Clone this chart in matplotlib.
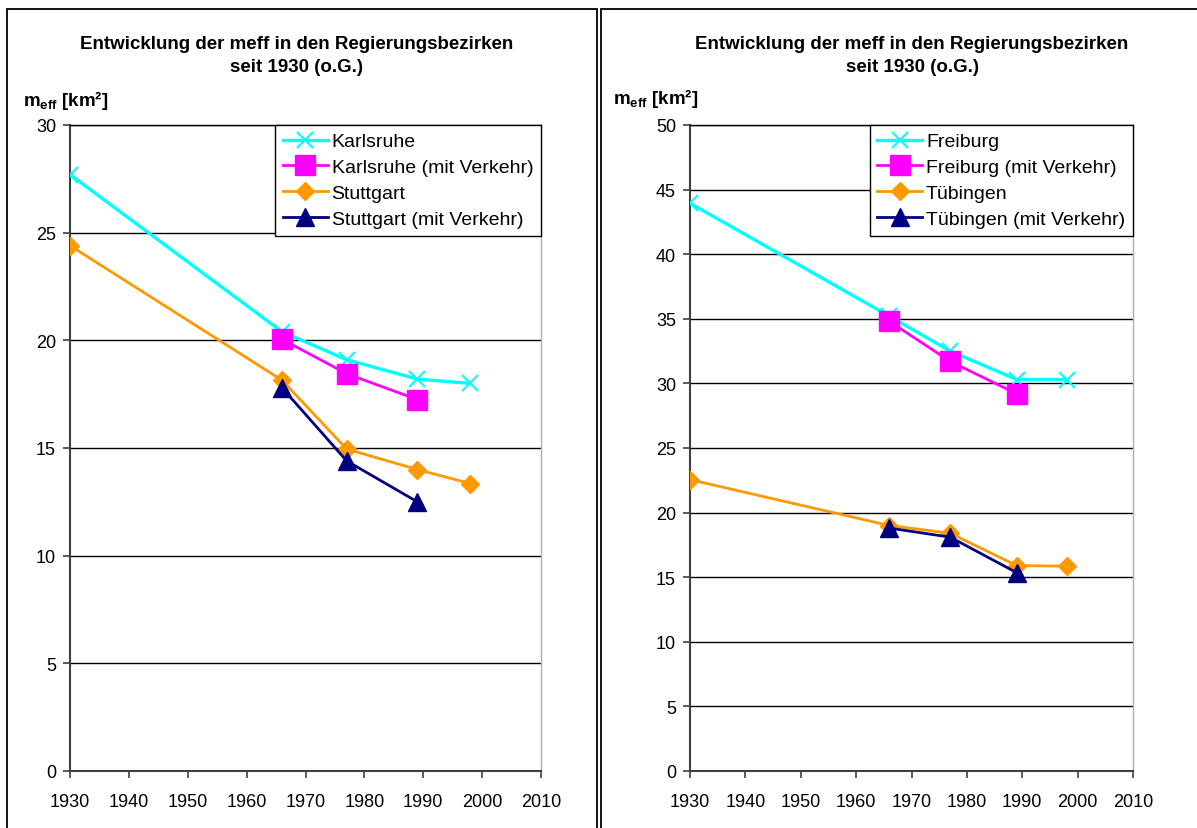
import matplotlib
matplotlib.use("Agg")
import matplotlib.pyplot as plt
from matplotlib.patches import Rectangle

plt.rcParams["font.family"] = ["Liberation Sans", "DejaVu Sans"]
plt.rcParams["mathtext.fontset"] = "custom"
plt.rcParams["mathtext.rm"] = "Liberation Sans"
plt.rcParams["mathtext.bf"] = "Liberation Sans:bold"

# -----------------------------
# Data
# -----------------------------
years_full = [1930, 1966, 1977, 1989, 1998]
years_traffic = [1966, 1977, 1989]

karlsruhe = [27.7, 20.4, 19.1, 18.2, 18.0]
karlsruhe_traffic = [20.05, 18.45, 17.25]
stuttgart = [24.4, 18.15, 14.95, 14.0, 13.35]
stuttgart_traffic = [17.8, 14.4, 12.5]

freiburg = [43.95, 35.2, 32.5, 30.3, 30.3]
freiburg_traffic = [34.8, 31.7, 29.2]
tuebingen = [22.55, 19.0, 18.4, 15.9, 15.85]
tuebingen_traffic = [18.8, 18.1, 15.35]

x_ticks = [1930, 1940, 1950, 1960, 1970, 1980, 1990, 2000, 2010]
title = "Entwicklung der meff in den Regierungsbezirken\nseit 1930 (o.G.)"

W, H = 1197, 829
fig = plt.figure(figsize=(W / 100, H / 100), dpi=100)


def px_rect(x0, y0, x1, y1):
    # pixel box (top-left origin) -> figure fraction [left, bottom, width, height]
    return [x0 / W, 1 - y1 / H, (x1 - x0) / W, (y1 - y0) / H]


def draw_panel(box, frame, title_x, label_xy, names, series, ymax):
    # outer frame of the chart object
    fx0, fy0, fx1, fy1 = frame
    fig.patches.append(Rectangle((fx0 / W, 1 - fy1 / H), (fx1 - fx0) / W, (fy1 - fy0) / H,
                                 transform=fig.transFigure, fill=False,
                                 edgecolor="black", linewidth=1.3))

    ax = fig.add_axes(px_rect(*box))
    (a, a_tr, b, b_tr) = series

    ax.plot(years_full, a, color="#00FFFF", lw=2.4, marker="x", ms=11, mew=1.5,
            label=names[0], zorder=3)
    ax.plot(years_traffic, a_tr, color="#FF00FF", lw=2.0, marker="s", ms=14,
            label=names[1], zorder=4)
    ax.plot(years_full, b, color="#FF9900", lw=2.0, marker="D", ms=9.5,
            label=names[2], zorder=3)
    ax.plot(years_traffic, b_tr, color="#000080", lw=2.0, marker="^", ms=13,
            label=names[3], zorder=4)

    ax.set_xlim(1930, 2010)
    ax.set_ylim(0, ymax)
    ax.set_xticks(x_ticks)
    ax.set_yticks(range(0, ymax + 1, 5))
    ax.yaxis.grid(True, color="black", lw=1.0)
    ax.set_axisbelow(True)

    ax.tick_params(axis="both", labelsize=13, length=5, width=1.2, color="#404040",
                   direction="out", pad=5)
    ax.tick_params(axis="x", pad=11)
    for side in ("left", "bottom"):
        ax.spines[side].set_color("#404040")
        ax.spines[side].set_linewidth(1.5)
    ax.spines["top"].set_color("black")
    ax.spines["top"].set_linewidth(1.0)
    ax.spines["right"].set_color("#b0b0b0")
    ax.spines["right"].set_linewidth(1.0)

    leg = ax.legend(loc="upper right", bbox_to_anchor=(1.0, 1.0), borderaxespad=0,
                    fancybox=False, edgecolor="black", framealpha=1, fontsize=14,
                    handlelength=2.3, handletextpad=0.2, borderpad=0.4,
                    labelspacing=0.42)
    leg.get_frame().set_linewidth(1.0)

    fig.text(title_x / W, 1 - 56 / H, title, ha="center", va="center",
             fontsize=13.5, fontweight="bold", linespacing=1.45)
    fig.text(label_xy[0] / W, 1 - label_xy[1] / H, r"$\mathbf{m_{eff}}$ [km²]",
             ha="left", va="center", fontsize=13.5, fontweight="bold")
    return ax


draw_panel((70, 126, 541, 772), (7, 10, 597, 840), 297, (23, 101),
           ["Karlsruhe", "Karlsruhe (mit Verkehr)", "Stuttgart", "Stuttgart (mit Verkehr)"],
           (karlsruhe, karlsruhe_traffic, stuttgart, stuttgart_traffic), 30)

draw_panel((690, 126, 1133, 772), (601, 10, 1210, 840), 912, (613, 98),
           ["Freiburg", "Freiburg (mit Verkehr)", "Tübingen", "Tübingen (mit Verkehr)"],
           (freiburg, freiburg_traffic, tuebingen, tuebingen_traffic), 50)

fig.savefig("out.png", dpi=100)
